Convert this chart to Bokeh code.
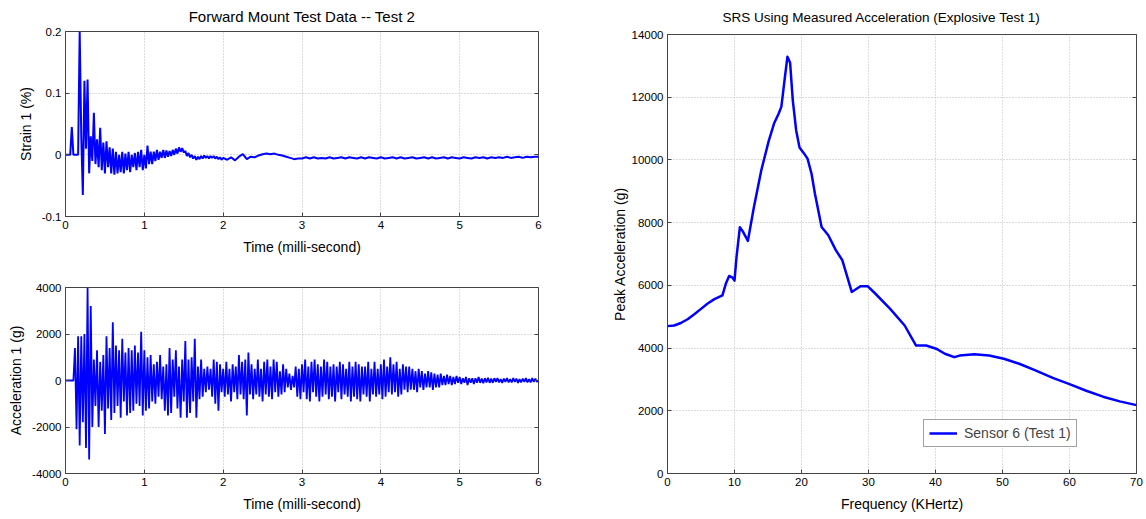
from bokeh.plotting import figure
from bokeh.layouts import row, column
from bokeh.models import FixedTicker, Range1d, CustomJSTickFormatter, LinearAxis
from bokeh.embed import file_html
from bokeh.resources import INLINE

FONT = "Liberation Sans"
BLUE = "#0000ff"

# ---------------- data ----------------
# Strain 1 (%), sampled every 0.02 ms from 0.00 to 2.00 ms
strain_dt_early = 0.02
strain_early = [
    0, 0, 0, 0, 0.045, 0, 0, 0, 0, 0.2,
    0.03, -0.065, 0.12, 0.01, 0.122, -0.03, 0.03, -0.01, 0.068, -0.015,
    0.025, -0.02, 0.044, -0.025, 0.02, -0.03, 0.022, -0.02, 0.012, -0.03,
    0.01, -0.032, 0.005, -0.03, 0.0, -0.028, 0.005, -0.03, 0.002, -0.025,
    0.005, -0.028, 0.0, -0.02, 0.003, -0.025, 0.005, -0.02, 0.008, -0.025,
    0.0, -0.022, 0.015, -0.015, 0.005, -0.015, 0.005, -0.01, 0.008, -0.008,
    0.005, -0.005, 0.008, -0.005, 0.007, -0.003, 0.006, -0.002, 0.008, 0.0,
    0.01, 0.002, 0.012, 0.005, 0.011, 0.004, 0.006, -0.002, 0.003, -0.004,
    0.0, -0.006, -0.002, -0.008, -0.003, -0.007, -0.002, -0.006, -0.001, -0.005,
    -0.002, -0.006, -0.002, -0.005, -0.002, -0.006, -0.003, -0.007, -0.004, -0.008,
    -0.005,
]
# Strain 1 (%), sampled every 0.05 ms from 2.05 to 6.00 ms
strain_dt_late = 0.05
strain_late = [
    -0.008, -0.004, -0.009, -0.003, 0.001, -0.007, -0.003, -0.004, -0.001, 0.001,
    0.002, 0.001, 0.002, 0.0, -0.001, -0.003, -0.005, -0.007, -0.006, -0.006,
    -0.004, -0.006, -0.004, -0.006, -0.005, -0.006, -0.004, -0.006, -0.005, -0.004,
    -0.006, -0.004, -0.005, -0.006, -0.004, -0.006, -0.004, -0.005, -0.006, -0.004,
    -0.006, -0.005, -0.004, -0.006, -0.004, -0.006, -0.005, -0.004, -0.006, -0.005,
    -0.004, -0.006, -0.004, -0.006, -0.005, -0.004, -0.006, -0.004, -0.005, -0.006,
    -0.004, -0.005, -0.006, -0.004, -0.005, -0.004, -0.006, -0.004, -0.005, -0.004,
    -0.005, -0.003, -0.005, -0.004, -0.003, -0.005, -0.003, -0.004, -0.003, -0.003,
]

# Acceleration 1 (g), sampled every 0.02 ms from 0.00 to 6.00 ms
acc_dt = 0.02
acc = [
    0, 0, 0, 0, 0, 0, 1400, -2100, 1900, -2800,
    1900, -1800, 2000, -2900, 4000, -3400, 3200, -2000, 900, -1100,
    1300, -2000, 800, -1300, 1100, -2300, 1900, -1200, 1400, -1700,
    2500, -1400, 1500, -1100, 1300, -1600, 1800, -900, 1200, -1500,
    1400, -1400, 1300, -1300, 1500, -1000, 1200, -1100, 2100, -1500,
    1300, -1300, 1000, -1200, 1100, -900, 700, -1000, 800, -700,
    1100, -800, 600, -1300, 700, -1500, 1400, -1400, 900, -700,
    1300, -1200, 600, -1600, 900, -900, 1700, -1600, 900, -1400,
    1000, -900, 1800, -1600, 600, -800, 900, -700, 500, -500,
    600, -400, 500, -700, 900, -1000, 800, -1300, 700, -500,
    500, -700, 800, -600, 500, -900, 700, -500, 600, -800,
    1100, -600, 800, -800, 900, -1500, 1200, -600, 700, -800,
    500, -600, 900, -700, 500, -900, 800, -600, 900, -700,
    600, -800, 900, -500, 800, -700, 400, -600, 700, -500,
    500, -300, 300, -400, 200, -300, 600, -700, 500, -800,
    700, -500, 900, -800, 600, -900, 800, -500, 900, -700,
    700, -900, 600, -700, 900, -600, 800, -800, 600, -700,
    700, -900, 600, -500, 800, -800, 700, -600, 500, -700,
    800, -900, 600, -700, 800, -800, 700, -900, 600, -600,
    600, -700, 800, -900, 500, -600, 800, -700, 500, -600,
    700, -800, 900, -700, 600, -500, 1000, -600, 700, -500,
    800, -700, 500, -600, 700, -400, 600, -500, 600, -400,
    500, -400, 400, -500, 500, -300, 400, -400, 300, -300,
    400, -300, 350, -400, 300, -300, 250, -300, 300, -200,
    200, -200, 250, -150, 200, -200, 150, -150, 200, -100,
    150, -150, 100, -100, 150, -200, 100, -100, 100, -150,
    100, -100, 150, -100, 80, -120, 100, -80, 120, -100,
    80, -100, 100, -60, 100, -80, 60, -100, 80, -60,
    100, -80, 60, -80, 100, -60, 80, -100, 60, -80,
    80, -60, 100, -80, 60, -80, 100, -60, 80, -60,
    0,
]

# SRS: frequency (kHz) vs peak acceleration (g)
srs_freq = [
    0, 1, 2, 3, 4, 5, 6, 7, 8.2, 8.7, 9.2, 9.7, 10.0, 10.3, 10.8, 11.3,
    12.0, 12.9, 14.0, 15.1, 15.9, 16.6, 17.0, 17.5, 17.9, 18.3, 18.7, 19.2,
    19.7, 20.4, 20.9, 21.5, 22.0, 23.0, 24.0, 25.1, 26.1, 27.5, 28.8, 29.9,
    31.0, 33.2, 35.4, 37.1, 38.6, 40.1, 41.4, 42.8, 43.6, 45.8, 48.0, 50.2,
    52.5, 55.0, 57.5, 60.0, 62.5, 65.0, 67.5, 70.0,
]
srs_peak = [
    4700, 4720, 4800, 4920, 5080, 5250, 5420, 5560, 5680, 6050, 6300, 6250, 6150, 6900, 7850, 7700,
    7420, 8500, 9670, 10600, 11160, 11480, 11700, 12600, 13290, 13100, 11900, 10950,
    10400, 10200, 10040, 9560, 8930, 7860, 7600, 7130, 6800, 5790, 5970, 5970,
    5740, 5260, 4720, 4080, 4080, 3980, 3820, 3710, 3760, 3800, 3760, 3660,
    3500, 3280, 3050, 2850, 2640, 2450, 2300, 2180,
]

time_ticks = [0, 1, 2, 3, 4, 5, 6]
strain_ticks = [-0.1, 0, 0.1, 0.2]
acc_ticks = [-4000, -2000, 0, 2000, 4000]
freq_ticks = [0, 10, 20, 30, 40, 50, 60, 70]
peak_ticks = [0, 2000, 4000, 6000, 8000, 10000, 12000, 14000]

strain_t = [i * strain_dt_early for i in range(len(strain_early))] + \
           [2.0 + (i + 1) * strain_dt_late for i in range(len(strain_late))]
strain_v = strain_early + strain_late
acc_t = [i * acc_dt for i in range(len(acc))]

fmt = CustomJSTickFormatter(code="return String(Math.round(tick*1000)/1000);")
blank = CustomJSTickFormatter(code="return '';")
AXC = "#444444"


def tick_only_axis(ticks):
    return LinearAxis(ticker=FixedTicker(ticks=ticks), formatter=blank,
                      major_tick_in=4, major_tick_out=0, minor_tick_line_color=None,
                      major_label_standoff=0, major_label_text_font_size="0px",
                      axis_line_color=None, major_tick_line_color=AXC)


def style(p, xticks, yticks, xlabel, ylabel):
    p.xaxis.ticker = FixedTicker(ticks=xticks)
    p.yaxis.ticker = FixedTicker(ticks=yticks)
    p.xaxis.axis_label = xlabel
    p.yaxis.axis_label = ylabel
    for ax in p.axis:
        ax.formatter = fmt
        ax.major_tick_in = 4
        ax.major_tick_out = 0
        ax.minor_tick_line_color = None
        ax.axis_line_color = AXC
        ax.major_tick_line_color = AXC
        ax.major_label_text_font = FONT
        ax.major_label_text_font_size = "11.5px"
        ax.major_label_text_color = "black"
        ax.axis_label_text_font = FONT
        ax.axis_label_text_font_size = "14px"
        ax.axis_label_text_font_style = "normal"
        ax.axis_label_text_color = "black"
    p.xaxis.major_label_standoff = 4
    p.xaxis.axis_label_standoff = 7
    p.yaxis.major_label_standoff = 4
    p.yaxis.axis_label_standoff = 5
    for g in p.grid:
        g.grid_line_color = "#b8b8b8"
        g.grid_line_dash = "1 2"
        g.grid_line_width = 1
    p.outline_line_color = AXC
    p.background_fill_color = "white"
    p.border_fill_color = "white"
    p.title.text_font = FONT
    p.title.text_font_style = "normal"
    p.title.text_color = "black"
    p.title.vertical_align = "top"
    p.add_layout(tick_only_axis(yticks), "right")


p1 = figure(frame_width=473, frame_height=185, min_border_left=65, min_border_right=6,
            min_border_top=31, min_border_bottom=48,
            x_range=Range1d(0, 6), y_range=Range1d(-0.1, 0.2),
            title="Forward Mount Test Data -- Test 2",
            output_backend="svg", toolbar_location=None)
p1.line(strain_t, strain_v, line_color=BLUE, line_width=2)
style(p1, time_ticks, strain_ticks, "Time (milli-second)", "Strain 1 (%)")
p1.title.text_font_size = "15px"
p1.title.align = "center"
p1.title.standoff = 10

p2 = figure(frame_width=473, frame_height=186, min_border_left=65, min_border_right=6,
            min_border_top=23, min_border_bottom=42,
            x_range=Range1d(0, 6), y_range=Range1d(-4000, 4000),
            output_backend="svg", toolbar_location=None)
p2.line(acc_t, acc, line_color=BLUE, line_width=1.8)
style(p2, time_ticks, acc_ticks, "Time (milli-second)", "Acceleration 1 (g)")

p3 = figure(frame_width=469, frame_height=439, min_border_left=123, min_border_right=8,
            min_border_top=34, min_border_bottom=42,
            x_range=Range1d(0, 70), y_range=Range1d(0, 14000),
            title="SRS Using Measured Acceleration (Explosive Test 1)",
            output_backend="svg", toolbar_location=None)
p3.line(srs_freq, srs_peak, line_color=BLUE, line_width=2.5, line_join="round",
        legend_label="Sensor 6 (Test 1)")
style(p3, freq_ticks, peak_ticks, "Frequency (KHertz)", "Peak Acceleration (g)")
p3.yaxis.axis_label_standoff = 1
p3.title.text_font_size = "13.5px"
p3.title.align = "left"
p3.title.offset = 55
p3.title.standoff = 15
p3.legend.location = (256, 26)
p3.legend.border_line_color = AXC
p3.legend.border_line_width = 1
p3.legend.background_fill_alpha = 1
p3.legend.label_text_font = FONT
p3.legend.label_text_font_size = "14px"
p3.legend.glyph_width = 28
p3.legend.glyph_height = 14
p3.legend.label_height = 14
p3.legend.padding = 5
p3.legend.margin = 0
p3.legend.label_standoff = 7

layout = row(column(p1, p2), p3)

with open("out.html", "w") as f:
    f.write(file_html(layout, INLINE))
